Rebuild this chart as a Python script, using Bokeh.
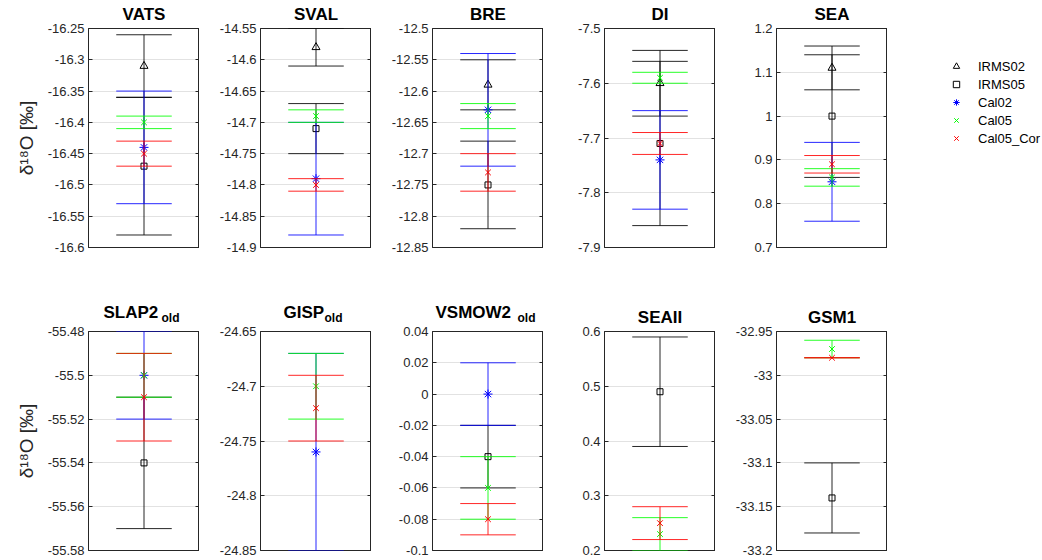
import numpy as np
from bokeh.plotting import figure
from bokeh.models import (Range1d, FixedTicker, LinearAxis, Legend,
                          LegendItem, CustomJSTickFormatter, ColumnDataSource)
from bokeh.core.properties import value
from bokeh.layouts import column, row
from bokeh.embed import file_html
from bokeh.resources import INLINE

nan = float("nan")

# ---------------- data ----------------
panels = ["VATS", "SVAL", "BRE", "DI", "SEA", "SLAP2", "GISP", "VSMOW2", "SEAII", "GSM1"]
subscripts = ["", "", "", "", "", "old", "old", "old", "", ""]

y_start = [-16.6, -14.9, -12.85, -7.9, 0.7, -55.58, -24.85, -0.1, 0.2, -33.2]
y_end = [-16.25, -14.55, -12.5, -7.5, 1.2, -55.48, -24.65, 0.04, 0.6, -32.95]
y_step = [0.05, 0.05, 0.05, 0.1, 0.1, 0.02, 0.05, 0.02, 0.1, 0.05]

IRMS02 = [-16.31, -14.58, -12.59, -7.60, 1.11, nan, nan, nan, nan, nan]
IRMS02_err = [0.05, 0.03, 0.04, 0.06, 0.05, nan, nan, nan, nan, nan]
IRMS05 = [-16.47, -14.71, -12.75, -7.71, 1.00, -55.54, nan, -0.04, 0.49, -33.14]
IRMS05_err = [0.11, 0.04, 0.07, 0.15, 0.14, 0.03, nan, 0.02, 0.10, 0.04]
Cal02 = [-16.44, -14.79, -12.63, -7.74, 0.85, -55.50, -24.76, 0.00, nan, nan]
Cal02_err = [0.09, 0.09, 0.09, 0.09, 0.09, 0.02, 0.09, 0.02, nan, nan]
Cal05 = [-16.40, -14.69, -12.64, -7.59, 0.86, -55.50, -24.70, -0.06, 0.23, -32.97]
Cal05_err = [0.01, 0.01, 0.02, 0.01, 0.02, 0.01, 0.03, 0.02, 0.03, 0.01]
Cal05_Cor = [-16.45, -14.80, -12.73, -7.71, 0.89, -55.51, -24.72, -0.08, 0.25, -32.98]
Cal05_Cor_err = [0.02, 0.01, 0.03, 0.02, 0.02, 0.02, 0.03, 0.01, 0.03, 0.00]

series_names = ["IRMS02", "IRMS05", "Cal02", "Cal05", "Cal05_Cor"]
series_vals = [IRMS02, IRMS05, Cal02, Cal05, Cal05_Cor]
series_errs = [IRMS02_err, IRMS05_err, Cal02_err, Cal05_err, Cal05_Cor_err]

# ---------------- styles / layout ----------------
series_colors = ["black", "black", "#0000ff", "#00ff00", "#ff0000"]
series_markers = ["triangle", "square", "asterisk", "x", "x"]
series_sizes = [8, 6, 9, 8, 8]

AX = "#262626"
FONT = "Liberation Sans"
W = 1042
FW, FH = 111, 219
LEFT0, GAP = 88, 61          # first frame left, space between frames
PITCH = FW + GAP
TOP_B, ROW1_BOT, ROW2_BOT = 6, 20, 10
T1_H, T2_H = 22, 58
LEG_W = W - (LEFT0 + FW + 4 * PITCH)
SH = 4.5                     # renderer's baseline shift compensation (px)
CAP = 0.5                    # half width of error-bar caps (x data units)
X0 = 1.0
# left offsets (px from frame left) of the two parts of subscripted titles
title_main_dx = {"SLAP2": 15, "GISP": 23, "VSMOW2": 3}
title_sub_dx = {"SLAP2": 73, "GISP": 64, "VSMOW2": 85}

fmt = CustomJSTickFormatter(code="return Number(tick.toFixed(4)).toString();")


def blank(width, height):
    f = figure(frame_width=width, frame_height=height, x_range=Range1d(0, width),
               y_range=Range1d(0, height), toolbar_location=None, output_backend="svg",
               title=None, min_border_left=0, min_border_right=0, min_border_top=0,
               min_border_bottom=0, background_fill_color="white",
               border_fill_color="white")
    f.axis.visible = False
    f.grid.visible = False
    f.outline_line_color = None
    return f


figs = []
for i, name in enumerate(panels):
    first_col = i in (0, 5)
    top_row = i < 5
    p = figure(frame_width=FW, frame_height=FH,
               x_range=Range1d(0, 2), y_range=Range1d(y_start[i], y_end[i]),
               toolbar_location=None, output_backend="svg", title=None,
               min_border_left=LEFT0 if first_col else GAP,
               min_border_right=0,
               min_border_top=TOP_B,
               min_border_bottom=ROW1_BOT if top_row else ROW2_BOT,
               background_fill_color="white", border_fill_color="white")
    p.outline_line_color = AX
    p.outline_line_width = 1
    p.outline_line_alpha = 1
    p.xaxis.visible = False
    p.xgrid.visible = False

    ticks = list(np.round(np.arange(y_start[i], y_end[i] + y_step[i] / 2, y_step[i]), 4))
    tk = FixedTicker(ticks=ticks)
    ya = p.yaxis[0]
    ya.ticker = tk
    ya.formatter = fmt
    ya.major_tick_in = 4
    ya.major_tick_out = 0
    ya.minor_tick_line_color = None
    ya.axis_line_color = AX
    ya.major_tick_line_color = AX
    ya.major_label_text_font = FONT
    ya.major_label_text_font_size = "13px"
    ya.major_label_text_color = AX
    ya.major_label_standoff = 4
    if first_col:
        ya.axis_label = "δ¹⁸O [‰]"
        ya.axis_label_text_font = FONT
        ya.axis_label_text_font_size = "19px"
        ya.axis_label_text_font_style = "normal"
        ya.axis_label_text_color = AX
        ya.axis_label_standoff = 8
    p.ygrid.ticker = tk
    p.ygrid.grid_line_color = "#e2e2e2"
    p.ygrid.grid_line_width = 1

    # right-hand box side with inward ticks only
    ra = LinearAxis(ticker=tk, formatter=fmt, major_label_text_font_size="0px",
                    major_label_text_color=None,
                    major_label_standoff=0, major_tick_in=4, major_tick_out=0,
                    minor_tick_line_color=None, axis_line_color=AX,
                    major_tick_line_color=AX)
    p.add_layout(ra, "right")

    for k, sname in enumerate(series_names):
        v = series_vals[k][i]
        e = series_errs[k][i]
        if np.isnan(v):
            continue
        lo, hi = v - e, v + e
        src = ColumnDataSource(dict(
            x0=[X0, X0 - CAP, X0 - CAP],
            x1=[X0, X0 + CAP, X0 + CAP],
            y0=[lo, lo, hi],
            y1=[hi, lo, hi]))
        p.segment("x0", "y0", "x1", "y1", source=src, line_color=series_colors[k],
                  line_width=1, line_alpha=0.85)
        p.scatter([X0], [v], marker=series_markers[k], size=series_sizes[k],
                  line_color=series_colors[k], fill_color=None, line_width=1)
    figs.append(p)


# ---------------- title strips ----------------
def title_strip(idx, height, main_gap, plain_gap, sub_gap):
    """gaps: distance (px) of each text's baseline above the strip bottom"""
    t = blank(W, height)
    cx, cy, ct = [], [], []
    lx, ly, lt = [], [], []
    sx, sy, st = [], [], []
    for j, i in enumerate(idx):
        fl = LEFT0 + j * PITCH
        if subscripts[i]:
            lx.append(fl + title_main_dx[panels[i]]); ly.append(main_gap + SH); lt.append(panels[i])
            sx.append(fl + title_sub_dx[panels[i]]); sy.append(sub_gap + SH); st.append(subscripts[i])
        else:
            cx.append(fl + FW / 2); cy.append(plain_gap + SH); ct.append(panels[i])
    common = dict(text_font=value(FONT), text_font_style="bold", text_color="black",
                  text_baseline="alphabetic")
    if ct:
        t.text(x=cx, y=cy, text=ct, text_align="center", text_font_size=value("17px"), **common)
    if lt:
        t.text(x=lx, y=ly, text=lt, text_align="left", text_font_size=value("17px"), **common)
    if st:
        t.text(x=sx, y=sy, text=st, text_align="left", text_font_size=value("12px"), **common)
    return t


t1 = title_strip(range(0, 5), T1_H, 0, 4.0, 0)
t2 = title_strip(range(5, 10), T2_H, 8.5, 4.0, 3.5)

# ---------------- legend panel ----------------
R1_H = TOP_B + FH + ROW1_BOT
lp = blank(LEG_W, R1_H)
items = []
for k, sname in enumerate(series_names):
    r = lp.scatter(x=[nan], y=[nan], marker=series_markers[k], size=series_sizes[k],
                   line_color=series_colors[k], fill_color=None, line_width=1)
    items.append(LegendItem(label=sname, renderers=[r]))
leg = Legend(items=items, location=(59, R1_H - 36 - 88), background_fill_alpha=0,
             border_line_alpha=0, padding=0, margin=0, spacing=2, glyph_width=20,
             glyph_height=16, label_height=16, label_standoff=12, label_text_font=FONT,
             label_text_font_size="13px", label_text_color="black")
lp.add_layout(leg)

layout = column(t1, row(*figs[:5], lp), t2, row(*figs[5:]))
open("out.html", "w").write(file_html(layout, INLINE))
